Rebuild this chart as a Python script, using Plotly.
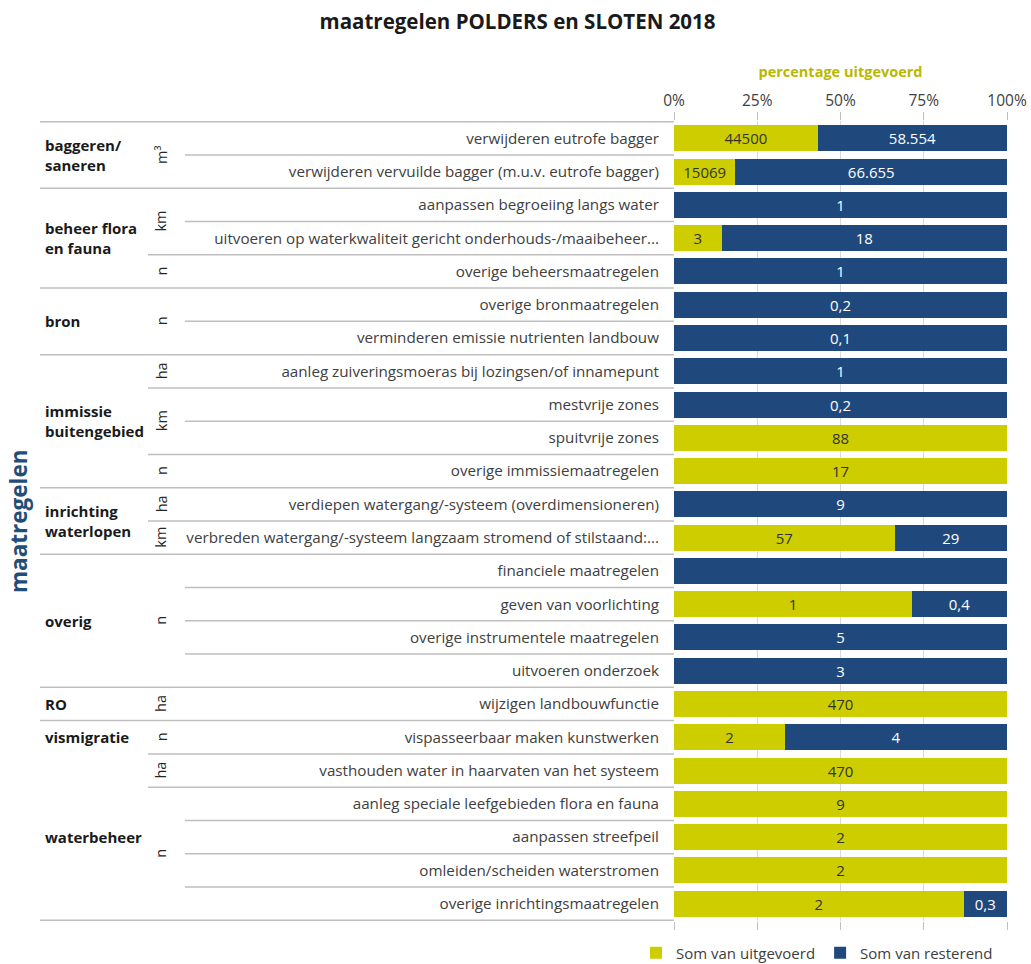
import plotly.graph_objects as go

# Maatregelen per hoofdgroep en eenheid (volgorde van boven naar beneden)
maatregelen = [
    "verwijderen eutrofe bagger",
    "verwijderen vervuilde bagger (m.u.v. eutrofe bagger)",
    "aanpassen begroeiing langs water",
    "uitvoeren op waterkwaliteit gericht onderhouds-/maaibeheer...",
    "overige beheersmaatregelen",
    "overige bronmaatregelen",
    "verminderen emissie nutrienten landbouw",
    "aanleg zuiveringsmoeras bij lozingsen/of innamepunt",
    "mestvrije zones",
    "spuitvrije zones",
    "overige immissiemaatregelen",
    "verdiepen watergang/-systeem (overdimensioneren)",
    "verbreden watergang/-systeem langzaam stromend of stilstaand:...",
    "financiele maatregelen",
    "geven van voorlichting",
    "overige instrumentele maatregelen",
    "uitvoeren onderzoek",
    "wijzigen landbouwfunctie",
    "vispasseerbaar maken kunstwerken",
    "vasthouden water in haarvaten van het systeem",
    "aanleg speciale leefgebieden flora en fauna",
    "aanpassen streefpeil",
    "omleiden/scheiden waterstromen",
    "overige inrichtingsmaatregelen",
]

groepen = [
    "baggeren/<br>saneren", "baggeren/<br>saneren",
    "beheer flora<br>en fauna", "beheer flora<br>en fauna", "beheer flora<br>en fauna",
    "bron", "bron",
    "immissie<br>buitengebied", "immissie<br>buitengebied",
    "immissie<br>buitengebied", "immissie<br>buitengebied",
    "inrichting<br>waterlopen", "inrichting<br>waterlopen",
    "overig", "overig", "overig", "overig",
    "RO",
    "vismigratie",
    "waterbeheer", "waterbeheer", "waterbeheer", "waterbeheer", "waterbeheer",
]

eenheden = [
    "m³", "m³",
    "km", "km", "n",
    "n", "n",
    "ha", "km", "km", "n",
    "ha", "km",
    "n", "n", "n", "n",
    "ha",
    "n",
    "ha", "n", "n", "n", "n",
]

uitgevoerd = [44500, 15069, 0, 3, 0, 0, 0, 0, 0, 88, 17, 0, 57,
              0, 1, 0, 0, 470, 2, 470, 9, 2, 2, 2]
resterend = [58554, 66655, 1, 18, 1, 0.2, 0.1, 1, 0.2, 0, 0, 9, 29,
             1, 0.4, 5, 3, 0, 4, 0, 0, 0, 0, 0.3]

# rijen waarvan het resterende aantal niet als label wordt getoond
zonder_label = {"financiele maatregelen"}

pct_ticks = [0, 25, 50, 75, 100]
pct_labels = ["0%", "25%", "50%", "75%", "100%"]

GEEL = "#CDCD00"
BLAUW = "#1F497D"
LIJN = "#BFBFBF"
FONT = "Open Sans"


def nl_getal(v, duizendtal):
    """Getal in Nederlandse notatie (decimale komma)."""
    if v == 0:
        return ""
    if float(v).is_integer():
        s = f"{int(v):,}" if duizendtal else str(int(v))
        return s.replace(",", ".")
    return str(v).replace(".", ",")


totaal = [u + r for u, r in zip(uitgevoerd, resterend)]
pct_uit = [u / t * 100 for u, t in zip(uitgevoerd, totaal)]
pct_rest = [r / t * 100 for r, t in zip(resterend, totaal)]
tekst_uit = [nl_getal(v, False) for v in uitgevoerd]
tekst_rest = ["" if m in zonder_label else nl_getal(v, True)
              for m, v in zip(maatregelen, resterend)]

fig = go.Figure()
fig.add_trace(go.Bar(
    y=maatregelen, x=pct_uit, orientation="h", name="Som van uitgevoerd",
    marker=dict(color=GEEL, line=dict(width=0)),
    text=tekst_uit, textposition="inside", insidetextanchor="middle",
    textangle=0, textfont=dict(color="#333333", size=15, family=FONT),
    customdata=uitgevoerd, hovertemplate="%{y}<br>uitgevoerd: %{customdata}<extra></extra>",
))
fig.add_trace(go.Bar(
    y=maatregelen, x=pct_rest, orientation="h", name="Som van resterend",
    marker=dict(color=BLAUW, line=dict(width=0)),
    text=tekst_rest, textposition="inside", insidetextanchor="middle",
    textangle=0, textfont=dict(color="white", size=15, family=FONT),
    customdata=resterend, hovertemplate="%{y}<br>resterend: %{customdata}<extra></extra>",
))

W, H = 1031, 964
ML, MR, MT, MB = 674, 24, 121, 43
PW = W - ML - MR
PH = H - MT - MB


def px_naar_paper(px):
    return (px - ML) / PW


n = len(maatregelen)
shapes = []
annotations = []

# scheidingslijnen in het labelgebied: hoofdgroep, eenheid of maatregel
shapes.append(dict(type="line", xref="paper", yref="y", x0=px_naar_paper(40), x1=0,
                   y0=-0.5, y1=-0.5, line=dict(color=LIJN, width=1.5)))
shapes.append(dict(type="line", xref="paper", yref="y", x0=px_naar_paper(40), x1=0,
                   y0=n - 0.5, y1=n - 0.5, line=dict(color=LIJN, width=1.5)))
for k in range(n - 1):
    if groepen[k] != groepen[k + 1] and groepen[k + 1] != "waterbeheer":
        start = 40
    elif groepen[k] != groepen[k + 1] or eenheden[k] != eenheden[k + 1]:
        start = 148
    else:
        start = 185
    shapes.append(dict(type="line", xref="paper", yref="y", x0=px_naar_paper(start), x1=0,
                       y0=k + 0.5, y1=k + 0.5, line=dict(color=LIJN, width=1.5)))


def blokken(labels):
    """Opeenvolgende gelijke labels als (label, eerste, laatste)."""
    res = []
    start = 0
    for i in range(1, n + 1):
        if i == n or labels[i] != labels[start] or (labels is eenheden and groepen[i] != groepen[start]):
            res.append((labels[start], start, i - 1))
            start = i
    return res


for naam, a, b in blokken(groepen):
    annotations.append(dict(
        text=f"<b>{naam}</b>", xref="paper", yref="y", x=px_naar_paper(43), y=(a + b) / 2,
        xanchor="left", yanchor="middle", align="left", showarrow=False,
        font=dict(size=15, color="#1a1a1a", family=FONT),
    ))

for eenheid, a, b in blokken(eenheden):
    annotations.append(dict(
        text=eenheid, xref="paper", yref="y", x=px_naar_paper(161), y=(a + b) / 2,
        xanchor="center", yanchor="middle", textangle=-90, showarrow=False,
        font=dict(size=14.5, color="#262626", family=FONT),
    ))

annotations.append(dict(
    text="<b>maatregelen</b>", xref="paper", yref="paper", x=px_naar_paper(18), y=0.5,
    xanchor="center", yanchor="middle", textangle=-90, showarrow=False,
    font=dict(size=22.5, color="#1F4E79", family=FONT),
))

fig.update_layout(
    width=W, height=H,
    margin=dict(l=ML, r=MR, t=MT, b=MB, pad=0, autoexpand=False),
    paper_bgcolor="white", plot_bgcolor="white",
    barmode="stack", bargap=0.22,
    font=dict(family=FONT, size=14, color="#404040"),
    title=dict(text="<b>maatregelen POLDERS en SLOTEN 2018</b>", x=0.502, xanchor="center",
               y=1 - 22 / H, yanchor="middle",
               font=dict(size=20.5, color="#1a1a1a", family=FONT)),
    xaxis=dict(
        side="top", range=[0, 100], tickmode="array", tickvals=pct_ticks, ticktext=pct_labels,
        showgrid=True, gridcolor="#D9D9D9", gridwidth=1.2, zeroline=False,
        showline=True, linecolor="white", linewidth=1, mirror="ticks",
        ticks="outside", ticklen=8, tickcolor="#BFBFBF", tickwidth=1.2,
        tickfont=dict(size=15.5, color="#404040"),
        title=dict(text="<b>percentage uitgevoerd</b>", standoff=7,
                   font=dict(size=14.5, color="#B8B800")),
        fixedrange=True,
    ),
    yaxis=dict(
        type="category", categoryorder="array", categoryarray=maatregelen,
        autorange="reversed", showgrid=False, zeroline=False,
        ticks="outside", ticklen=11, tickcolor="rgba(0,0,0,0)",
        tickfont=dict(size=15.2, color="#404040"),
        fixedrange=True,
    ),
    legend=dict(orientation="h", x=px_naar_paper(636), xanchor="left",
                y=-(953 - (H - MB)) / PH, yanchor="middle",
                font=dict(size=15, color="#404040"), traceorder="normal",
                itemwidth=30),
    uniformtext=dict(minsize=14, mode="show"),
    shapes=shapes,
    annotations=annotations,
)

fig.write_html("out.html")
